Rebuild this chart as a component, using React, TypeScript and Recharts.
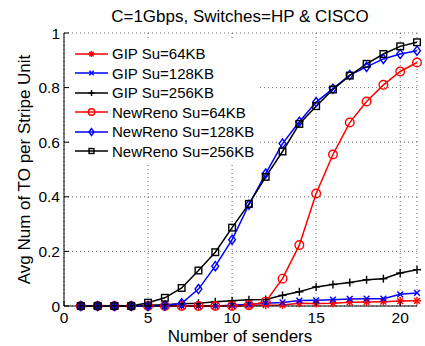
import React from "react";
import { LineChart, Line, XAxis, YAxis, CartesianGrid, Legend } from "recharts";

const senders = [1, 2, 3, 4, 5, 6, 7, 8, 9, 10, 11, 12, 13, 14, 15, 16, 17, 18, 19, 20, 21];

const gip64 = [0, 0, 0, 0, 0, 0, 0, 0, 0, 0, 0.002, 0.003, 0.004, 0.01, 0.009, 0.01, 0.014, 0.015, 0.016, 0.018, 0.019];
const gip128 = [0, 0, 0, 0, 0, 0, 0, 0, 0, 0.003, 0.006, 0.01, 0.013, 0.02, 0.021, 0.023, 0.026, 0.027, 0.027, 0.043, 0.048];
const gip256 = [0, 0, 0, 0, 0.003, 0.005, 0.008, 0.01, 0.016, 0.019, 0.023, 0.024, 0.039, 0.052, 0.07, 0.079, 0.086, 0.096, 0.1, 0.121, 0.133];
const reno64 = [0, 0, 0, 0, 0, 0, 0, 0, 0, 0, 0.003, 0.016, 0.1, 0.223, 0.412, 0.555, 0.672, 0.749, 0.81, 0.859, 0.892];
const reno128 = [0, 0, 0, 0, 0, 0.002, 0.01, 0.062, 0.146, 0.243, 0.371, 0.485, 0.595, 0.675, 0.747, 0.796, 0.846, 0.876, 0.905, 0.923, 0.935];
const reno256 = [0, 0, 0, 0, 0.012, 0.03, 0.066, 0.13, 0.197, 0.287, 0.374, 0.473, 0.566, 0.667, 0.732, 0.793, 0.844, 0.887, 0.923, 0.951, 0.966];

const xTicks = [0, 5, 10, 15, 20];
const yTicks = [0, 0.2, 0.4, 0.6, 0.8, 1];

const data = senders.map((n, i) => ({
  n,
  gip64: gip64[i],
  gip128: gip128[i],
  gip256: gip256[i],
  reno64: reno64[i],
  reno128: reno128[i],
  reno256: reno256[i],
}));

type Marker = "star" | "x" | "plus" | "circle" | "diamond" | "square";

const series: { key: string; name: string; color: string; marker: Marker }[] = [
  { key: "gip64", name: "GIP Su=64KB", color: "#ff0000", marker: "star" },
  { key: "gip128", name: "GIP Su=128KB", color: "#0000ff", marker: "x" },
  { key: "gip256", name: "GIP Su=256KB", color: "#000000", marker: "plus" },
  { key: "reno64", name: "NewReno Su=64KB", color: "#ff0000", marker: "circle" },
  { key: "reno128", name: "NewReno Su=128KB", color: "#0000ff", marker: "diamond" },
  { key: "reno256", name: "NewReno Su=256KB", color: "#000000", marker: "square" },
];

const FONT = "'Liberation Sans', Arial, Helvetica, sans-serif";

function MarkerShape({ cx, cy, kind, color, k = 1 }: { cx: number; cy: number; kind: Marker; color: string; k?: number }) {
  const s = { stroke: color, strokeWidth: 1.4, fill: "none" };
  const r = 4 * k;
  const d = r * 0.72;
  switch (kind) {
    case "star":
      return (
        <g {...s}>
          <line x1={cx - r} y1={cy} x2={cx + r} y2={cy} />
          <line x1={cx} y1={cy - r} x2={cx} y2={cy + r} />
          <line x1={cx - d} y1={cy - d} x2={cx + d} y2={cy + d} />
          <line x1={cx - d} y1={cy + d} x2={cx + d} y2={cy - d} />
        </g>
      );
    case "x":
      return (
        <g {...s}>
          <line x1={cx - d} y1={cy - d} x2={cx + d} y2={cy + d} />
          <line x1={cx - d} y1={cy + d} x2={cx + d} y2={cy - d} />
        </g>
      );
    case "plus":
      return (
        <g {...s}>
          <line x1={cx - r} y1={cy} x2={cx + r} y2={cy} />
          <line x1={cx} y1={cy - r} x2={cx} y2={cy + r} />
        </g>
      );
    case "circle":
      return <circle cx={cx} cy={cy} r={4.3 * k} {...s} />;
    case "diamond":
      return (
        <polygon
          points={`${cx},${cy - 4.6 * k} ${cx + 3.4 * k},${cy} ${cx},${cy + 4.6 * k} ${cx - 3.4 * k},${cy}`}
          {...s}
        />
      );
    default:
      return <rect x={cx - 3.3 * k} y={cy - 3.3 * k} width={6.6 * k} height={6.6 * k} {...s} />;
  }
}

function makeDot(kind: Marker, color: string) {
  return (props: any) => {
    const { cx, cy, index } = props;
    if (cx == null || cy == null) return <g key={`d-${index}`} />;
    return (
      <g key={`d-${index}`}>
        <MarkerShape cx={cx} cy={cy} kind={kind} color={color} />
      </g>
    );
  };
}

function BottomTick({ x, y, payload }: any) {
  return (
    <g>
      <line x1={x} x2={x} y1={y} y2={y - 5} stroke="#000" />
      <text x={x} y={y + 17} textAnchor="middle" fontSize={15.5} fontFamily={FONT} fill="#000">
        {payload.value}
      </text>
    </g>
  );
}

function LeftTick({ x, y, payload }: any) {
  return (
    <g>
      <line x1={x} x2={x + 5} y1={y} y2={y} stroke="#000" />
      <text x={x - 4} y={y} dy="0.36em" textAnchor="end" fontSize={15.5} fontFamily={FONT} fill="#000">
        {payload.value}
      </text>
    </g>
  );
}

function TopTick({ x, y }: any) {
  return <line x1={x} x2={x} y1={y} y2={y + 5} stroke="#000" />;
}

function RightTick({ x, y }: any) {
  return <line x1={x} x2={x - 5} y1={y} y2={y} stroke="#000" />;
}

function LegendBox() {
  return (
    <div style={{ background: "#fff", padding: "4px 6px 4px 5px", fontFamily: FONT, fontSize: 15 }}>
      {series.map((s) => (
        <div key={s.key} style={{ display: "flex", alignItems: "center", height: 19.5 }}>
          <svg width={34} height={14} style={{ display: "block" }}>
            <line x1={0} x2={33} y1={7} y2={7} stroke={s.color} strokeWidth={1.5} />
            <MarkerShape cx={16.5} cy={7} kind={s.marker} color={s.color} k={0.75} />
          </svg>
          <span style={{ marginLeft: 3, whiteSpace: "nowrap", lineHeight: "19px" }}>{s.name}</span>
        </div>
      ))}
    </div>
  );
}

export default function App() {
  return (
    <div style={{ position: "absolute", left: 0, top: 0, width: 425, height: 346, background: "#fff" }}>
      <LineChart width={425} height={346} data={data} margin={{ top: 33, right: 8, bottom: 0, left: 0 }}>
        <CartesianGrid stroke="#444" strokeDasharray="1 3" strokeWidth={0.8} />
        <XAxis
          dataKey="n"
          type="number"
          domain={[0, 21]}
          ticks={xTicks}
          height={40}
          stroke="#000"
          tickSize={0}
          tickMargin={0}
          tick={<BottomTick />}
          interval={0}
        />
        <XAxis
          xAxisId="top"
          dataKey="n"
          type="number"
          orientation="top"
          domain={[0, 21]}
          ticks={xTicks}
          height={0}
          stroke="#000"
          tickSize={0}
          tickMargin={0}
          tick={<TopTick />}
          interval={0}
        />
        <YAxis
          type="number"
          domain={[0, 1]}
          ticks={yTicks}
          width={64}
          stroke="#000"
          tickSize={0}
          tickMargin={0}
          tick={<LeftTick />}
          interval={0}
        />
        <YAxis
          yAxisId="right"
          orientation="right"
          type="number"
          domain={[0, 1]}
          ticks={yTicks}
          width={0}
          stroke="#000"
          tickSize={0}
          tickMargin={0}
          tick={<RightTick />}
          interval={0}
        />
        {series.map((s) => (
          <Line
            key={s.key}
            dataKey={s.key}
            name={s.name}
            type="linear"
            stroke={s.color}
            strokeWidth={1.5}
            dot={makeDot(s.marker, s.color)}
            activeDot={false}
            isAnimationActive={false}
          />
        ))}
        <Legend
          layout="vertical"
          align="center"
          verticalAlign="middle"
          content={<LegendBox />}
          wrapperStyle={{ position: "absolute", left: 70, top: 40, width: "auto" }}
        />
      </LineChart>
      <svg width={425} height={346} style={{ position: "absolute", left: 0, top: 0, pointerEvents: "none" }}>
        <text x={240} y={22} textAnchor="middle" fontSize={17} fontFamily={FONT} fill="#000">
          C=1Gbps, Switches=HP &amp; CISCO
        </text>
        <text x={240} y={342} textAnchor="middle" fontSize={17} fontFamily={FONT} fill="#000">
          Number of senders
        </text>
        <text transform="translate(29.5,169.5) rotate(-90)" textAnchor="middle" fontSize={17} fontFamily={FONT} fill="#000">
          Avg Num of TO per Stripe Unit
        </text>
      </svg>
    </div>
  );
}
